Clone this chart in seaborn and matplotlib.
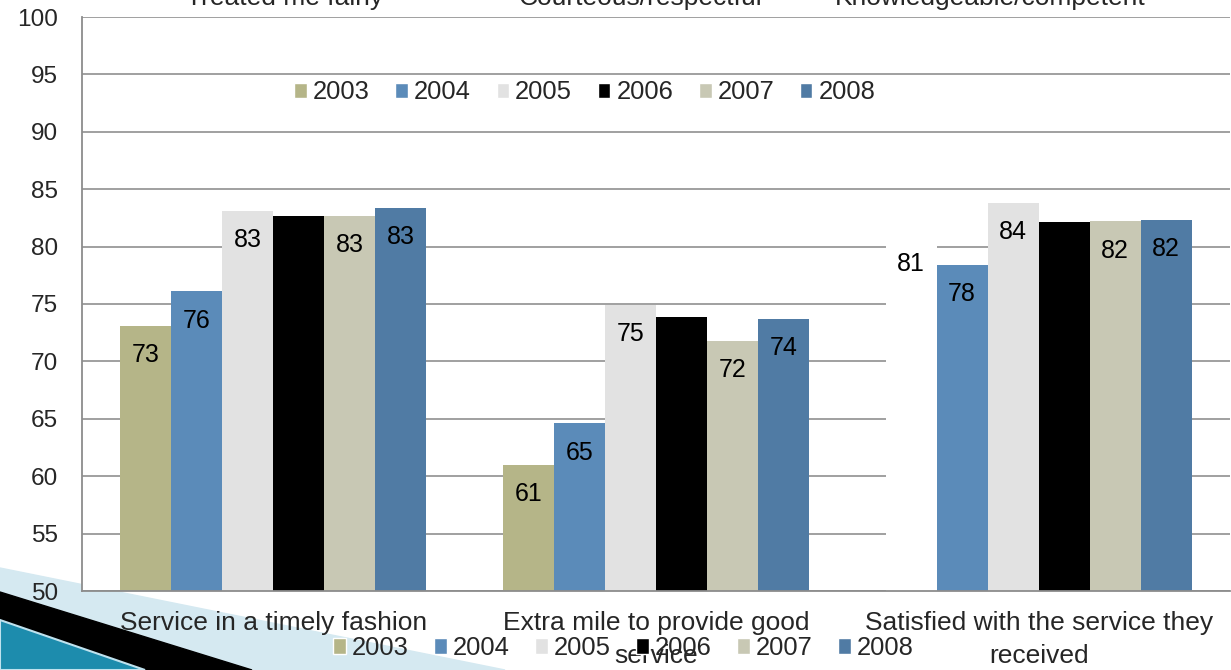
import pandas as pd
import matplotlib
matplotlib.use("Agg")
import matplotlib.pyplot as plt
from matplotlib.patches import Patch, Polygon
import seaborn as sns

## Data
categories = ["Service in a timely fashion",
              "Extra mile to provide good\nservice",
              "Satisfied with the service they\nreceived"]
years = ["2003", "2004", "2005", "2006", "2007", "2008"]
v2003 = [73.1, 61.0, 81.0]
v2004 = [76.1, 64.6, 78.4]
v2005 = [83.1, 74.9, 83.8]
v2006 = [82.7, 73.9, 82.1]
v2007 = [82.7, 71.8, 82.2]
v2008 = [83.4, 73.7, 82.3]
colors = ["#b5b588", "#5b8bb9", "#e2e2e2", "#000000", "#c8c8b4", "#507ba4"]
# labels of another chart that peek in at the top of the slide
other_labels = ["Treated me fairly", "Courteous/respectful", "Knowledgeable/competent"]

values = [v2003, v2004, v2005, v2006, v2007, v2008]
rows = []
for y, vals in zip(years, values):
    for c, v in zip(categories, vals):
        rows.append({"category": c, "year": y, "value": v})
df = pd.DataFrame(rows)

sns.set_style("white")
plt.rcParams["font.family"] = ["Liberation Sans", "DejaVu Sans"]

W, H = 1231, 670
fig = plt.figure(figsize=(W / 100, H / 100), dpi=100)

# slide decoration in the bottom-left corner
def px(pts):
    return [(x / W, 1 - y / H) for x, y in pts]

fig.add_artist(Polygon(px([(0, 568), (505, 670), (0, 670)]), closed=True,
                       transform=fig.transFigure, color="#d5e9f1", zorder=-3))
fig.add_artist(Polygon(px([(0, 592), (252, 670), (0, 670)]), closed=True,
                       transform=fig.transFigure, color="black", zorder=-2))
fig.add_artist(Polygon(px([(0, 620), (145, 670), (0, 670)]), closed=True,
                       transform=fig.transFigure, facecolor="#1d8cad",
                       edgecolor="#bfe2ee", linewidth=1.5, zorder=-1))

ax = fig.add_axes([82 / W, 1 - 591 / H, (1230 - 82) / W, (591 - 17) / H])
sns.barplot(data=df, x="category", y="value", hue="year", order=categories,
            hue_order=years, palette=colors, saturation=1, width=0.8,
            errorbar=None, linewidth=0, legend=False, ax=ax)

# the 2003 bar of the last group is blank on the slide
ax.containers[0][2].set_facecolor("white")

for cont in ax.containers:
    for bar in cont:
        h = bar.get_height()
        ax.annotate(f"{h:.0f}", (bar.get_x() + bar.get_width() / 2, h),
                    xytext=(0, -21), textcoords="offset points",
                    ha="center", va="center", fontsize=18, color="black")

ax.set_ylim(50, 100)
ax.set_yticks(range(50, 101, 5))
ax.set_xlim(-0.5, 2.5)
ax.set_axisbelow(True)
ax.yaxis.grid(True, color="#999999", linewidth=1.3)
ax.set_xlabel("")
ax.set_ylabel("")
for s in ["top", "right"]:
    ax.spines[s].set_visible(False)
for s in ["left", "bottom"]:
    ax.spines[s].set_color("#8c8c8c")
    ax.spines[s].set_linewidth(1.3)

ax.set_xticks(range(len(categories)))
ax.set_xticklabels(categories, linespacing=1.45)
ax.set_xticks([-0.5, 0.5, 1.5, 2.5], minor=True)
ax.tick_params(axis="x", which="major", length=0, pad=14.5, labelsize=19)
ax.tick_params(axis="x", which="minor", length=5.5, width=1.3, color="#8c8c8c", direction="out")
ax.tick_params(axis="y", length=5.8, width=1.3, color="#8c8c8c", direction="out",
               labelsize=17.6, pad=11.5)

handles = [Patch(facecolor=c) for c in colors]
leg_kw = dict(ncol=6, frameon=False, fontsize=18.4, handlelength=0.5, handleheight=0.55,
              handletextpad=0.23, columnspacing=1.0, borderpad=0)
ax.legend(handles, years, loc="center", bbox_to_anchor=(0.438, 0.8685), **leg_kw)
fig.legend(handles, years, loc="center", bbox_to_anchor=(623.5 / W, 1 - 648 / H), **leg_kw)

for x, t in zip([285, 640, 990], other_labels):
    fig.text(x / W, 1 - 5 / H, t, ha="center", va="baseline", fontsize=19)

fig.savefig("out.png", dpi=100)
